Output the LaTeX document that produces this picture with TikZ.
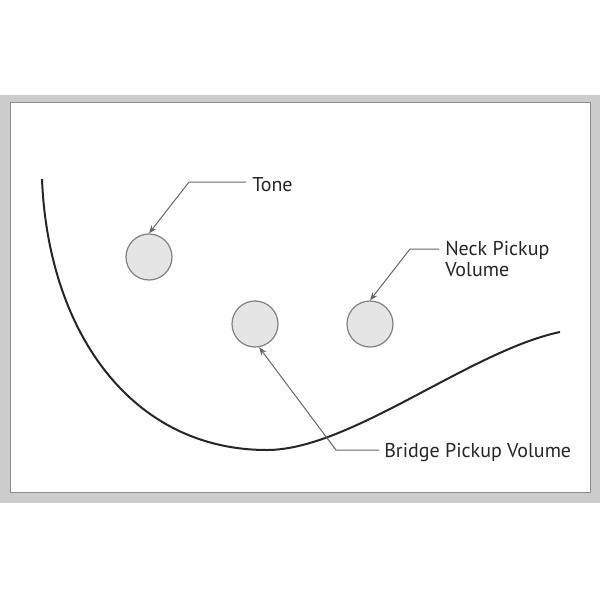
\documentclass[tikz,border=0pt]{standalone}
\usepackage{fontspec}
\setmainfont{PT Sans}
\usetikzlibrary{arrows.meta}
\tikzset{
  knob/.style={circle, draw=black!50, fill=black!10, line width=0.9pt, minimum size=34.5pt, inner sep=0pt},
  callout/.style={draw=black!60, line width=0.75pt, -{Stealth[length=6pt,width=4.5pt]}},
  lbl/.style={inner sep=0pt, text=black!85, font=\fontsize{15}{15.75}\selectfont},
}
\begin{document}
\begin{tikzpicture}[x=0.75pt, y=-0.75pt]
  \useasboundingbox (0,0) rectangle (600,600);
  % Rahmen
  \fill[black!20] (0,95) rectangle (600,503);
  \draw[fill=white, draw=black!45, line width=1.2pt] (10.5,102.5) rectangle (590.5,492.5);

  % Korpuskante
  \draw[black!85, line width=1.5pt] (42,179) .. controls (48,330) and (130,450) .. (267,450)
    .. controls (350,450) and (470,351) .. (560,332);

  % Regler
  \foreach \nm/\px/\py in {tone/149/257, bvol/255/324, nvol/370/324}
    \node[knob] (\nm) at (\px,\py) {};

  % Beschriftungen
  \node[lbl, anchor=base west] (tonetxt) at (252,191) {Tone};
  \node[lbl, anchor=north west, align=left] (necktxt) at (445,241) {Neck Pickup\\Volume};
  \node[lbl, anchor=base west] (bridgetxt) at (384,457) {Bridge Pickup Volume};

  % Zeiger
  \coordinate (tonel) at (246,182);
  \coordinate (tonebend) at (189,182);
  \coordinate (neckl) at (439,249);
  \coordinate (neckbend) at (410,249);
  \coordinate (bridgel) at (379,450);
  \coordinate (bridgebend) at (336,450);
  \draw[callout] (tonel) -- (tonebend) -- (tone.north);
  \draw[callout] (neckl) -- (neckbend) -- (nvol.north);
  \draw[callout] (bridgel) -- (bridgebend) -- (bvol.-80);
\end{tikzpicture}
\end{document}
